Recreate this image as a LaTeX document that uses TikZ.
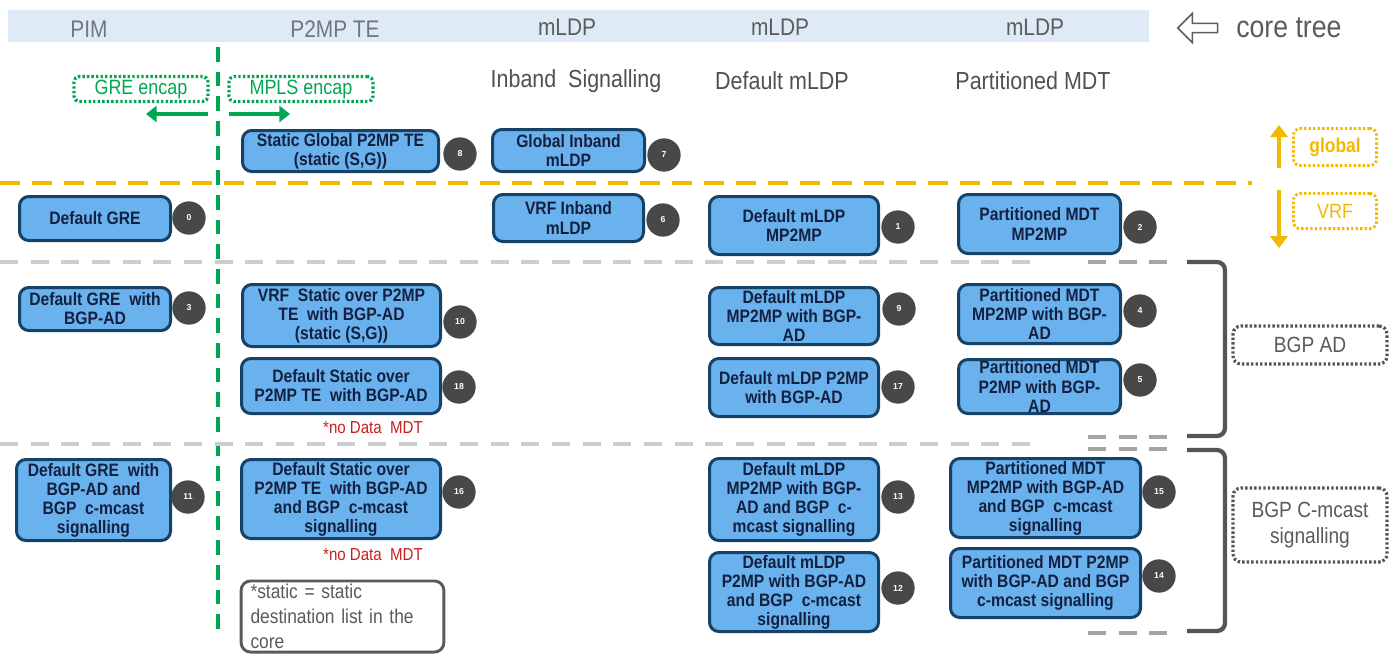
\documentclass[tikz,border=0pt]{standalone}
\usepackage{fontspec}
\setmainfont{Liberation Sans}
\newfontfamily\nar[FakeStretch=0.87]{Liberation Sans}
\usetikzlibrary{shapes.arrows,arrows.meta}
\definecolor{barblue}{RGB}{222,235,247}
\definecolor{boxfill}{RGB}{106,178,238}
\definecolor{boxborder}{RGB}{22,66,104}
\definecolor{boxtext}{RGB}{20,32,64}
\definecolor{numgray}{RGB}{72,72,72}
\definecolor{headgray}{RGB}{112,118,124}
\definecolor{headdark}{RGB}{92,92,92}
\definecolor{subgray}{RGB}{80,80,80}
\definecolor{encgreen}{RGB}{0,166,81}
\definecolor{gold}{RGB}{245,184,0}
\definecolor{dashgray}{RGB}{205,205,205}
\definecolor{dashdark}{RGB}{165,165,165}
\definecolor{brack}{RGB}{85,85,85}
\definecolor{notered}{RGB}{200,30,30}
\definecolor{notegray}{RGB}{90,90,90}
\begin{document}
\begin{tikzpicture}[x=0.75pt,y=-0.75pt,
  box/.style={draw=boxborder, line width=2.25pt, fill=boxfill, rounded corners=7pt,
    align=center, text=boxtext, inner sep=1pt,
    font=\nar\bfseries\fontsize{13.5}{14.3}\selectfont},
  sz/.style 2 args={minimum width=#1*0.75pt-2.25pt, minimum height=#2*0.75pt-2.25pt},
  num/.style={circle, fill=numgray, text=white, minimum size=25pt, inner sep=0pt,
    font=\bfseries\fontsize{6.5}{7}\selectfont},
  head/.style={text=headgray, font=\nar\fontsize{18}{20}\selectfont, inner sep=0pt},
  headm/.style={text=headdark, font=\nar\fontsize{18}{20}\selectfont, inner sep=0pt},
  sub/.style={text=subgray, font=\nar\fontsize{18.5}{20}\selectfont, inner sep=0pt},
  encbox/.style={draw=encgreen, line width=2.4pt, dash pattern=on 1.8pt off 1.6pt,
    rounded corners=4pt, text=encgreen, font=\nar\fontsize{15.5}{17}\selectfont, inner sep=0pt},
  goldbox/.style={draw=gold, line width=2.2pt, dash pattern=on 1.8pt off 1.6pt,
    rounded corners=5pt, text=gold, inner sep=0pt},
  graybox/.style={draw=brack, line width=2.4pt, dash pattern=on 1.8pt off 1.6pt,
    rounded corners=6pt, text=notegray, font=\nar\fontsize{16.5}{19.5}\selectfont,
    align=center, inner sep=0pt},
  nodata/.style={text=notered, font=\nar\fontsize{13}{15}\selectfont, inner sep=0pt},
  gline/.style={draw=encgreen, line width=3pt, dash pattern=on 11pt off 7.5pt},
  yline/.style={draw=gold, line width=2.6pt, dash pattern=on 15pt off 9pt},
  grline/.style={draw=dashgray, line width=2.4pt, dash pattern=on 13.5pt off 9.5pt},
  grdark/.style={draw=dashdark, line width=3pt, dash pattern=on 13.5pt off 9.5pt},
  brk/.style={draw=brack, line width=3.2pt, rounded corners=6pt},
  garrow/.style={draw=encgreen, line width=3.2pt, -{Triangle[length=8pt,width=12pt]}},
  yarrow/.style={draw=gold, line width=3.4pt, -{Triangle[length=9pt,width=13pt]}}
]
\useasboundingbox (0,0) rectangle (1399,654);

% top bar
\fill[barblue] (8,10) rectangle (1149,42);
\node[head] (hpim) at (89,29) {PIM};
\node[head] (hte) at (335,29) {P2MP TE};
\node[headm] (hm1) at (567,27) {mLDP};
\node[headm] (hm2) at (780,27) {mLDP};
\node[headm] (hm3) at (1035,27) {mLDP};
\node[single arrow, draw=headdark, fill=white, line width=1.2pt, shape border rotate=180,
  minimum height=30pt, minimum width=22pt, single arrow head extend=6pt,
  single arrow head indent=0pt, inner sep=2.2pt] (ctarrow) at (1200,28) {};
\node[text=headdark, font=\nar\fontsize{23}{25}\selectfont, anchor=west, inner sep=0pt]
  (ctree) at (1236,28) {core tree};

% sub headers
\node[sub] (sib) at (576,81) {Inband\ \ Signalling};
\node[sub] (sdm) at (782,81) {Default mLDP};
\node[sub] (spm) at (1033,81) {Partitioned MDT};

% separators
\coordinate (ga) at (218,47); \coordinate (gb) at (218,630);
\draw[gline] (ga) -- (gb);
\coordinate (ya) at (0,183); \coordinate (yb) at (1252,183);
\draw[yline] (ya) -- (yb);
\coordinate (l1a) at (0,262); \coordinate (l1b) at (1040,262);
\draw[grline] (l1a) -- (l1b);
\coordinate (l2a) at (0,444); \coordinate (l2b) at (1040,444);
\draw[grline] (l2a) -- (l2b);
\coordinate (d1a) at (1088,262); \coordinate (d1b) at (1168,262);
\draw[grdark] (d1a) -- (d1b);
\coordinate (d2a) at (1088,437); \coordinate (d2b) at (1168,437);
\draw[grdark] (d2a) -- (d2b);
\coordinate (d3a) at (1088,449); \coordinate (d3b) at (1168,449);
\draw[grdark] (d3a) -- (d3b);
\coordinate (d4a) at (1088,633); \coordinate (d4b) at (1168,633);
\draw[grdark] (d4a) -- (d4b);

% brackets
\coordinate (b1a) at (1187,262); \coordinate (b1b) at (1225,262);
\coordinate (b1c) at (1225,436); \coordinate (b1d) at (1187,436);
\draw[brk] (b1a) -- (b1b) -- (b1c) -- (b1d);
\coordinate (b2a) at (1187,450); \coordinate (b2b) at (1225,450);
\coordinate (b2c) at (1225,631); \coordinate (b2d) at (1187,631);
\draw[brk] (b2a) -- (b2b) -- (b2c) -- (b2d);

% encap labels
\node[encbox, minimum width=134*0.75pt, minimum height=25*0.75pt] (gre) at (141,89) {GRE encap};
\node[encbox, minimum width=144*0.75pt, minimum height=25*0.75pt] (mpls) at (301,89) {MPLS encap};
\coordinate (gl1) at (208,114); \coordinate (gl2) at (146,114);
\draw[garrow] (gl1) -- (gl2);
\coordinate (gr1) at (229,114); \coordinate (gr2) at (290,114);
\draw[garrow] (gr1) -- (gr2);

% global / VRF
\node[goldbox, minimum width=86*0.75pt-2.2pt, minimum height=40*0.75pt-2.2pt,
  font=\nar\bfseries\fontsize{15}{17}\selectfont] (glob) at (1335,147) {global};
\node[goldbox, minimum width=86*0.75pt-2.2pt, minimum height=38*0.75pt-2.2pt,
  font=\nar\fontsize{15.5}{17}\selectfont] (vrf) at (1335,211) {VRF};
\coordinate (ua) at (1279,168); \coordinate (ub) at (1279,125);
\draw[yarrow] (ua) -- (ub);
\coordinate (va) at (1279,190); \coordinate (vb) at (1279,248);
\draw[yarrow] (va) -- (vb);

% bracket labels
\node[graybox, minimum width=154*0.75pt, minimum height=38*0.75pt] (bgpad) at (1310,345) {BGP AD};
\node[graybox, minimum width=154*0.75pt, minimum height=74*0.75pt] (bgpcm) at (1310,525) {BGP C-mcast\\signalling};

% boxes
\node[box, sz={199}{44}] (s8) at (340.5,151) {Static Global P2MP TE\\(static (S,G))};
\node[num] (n8) at (460,154) {8};
\node[box, sz={155}{45}] (s7) at (568.5,150.5) {Global Inband\\mLDP};
\node[num] (n7) at (664,155) {7};

\node[box, sz={154}{47}] (s0) at (95,218.5) {Default GRE};
\node[num] (n0) at (189,218) {0};
\node[box, sz={153}{50}] (s6) at (568.5,218) {VRF Inband\\mLDP};
\node[num] (n6) at (663,220) {6};
\node[box, sz={172}{61}] (s1) at (794,225.5) {Default mLDP\\MP2MP};
\node[num] (n1) at (898,227) {1};
\node[box, sz={165}{62}] (s2) at (1039.5,224) {Partitioned MDT\\MP2MP};
\node[num] (n2) at (1140,227) {2};

\node[box, sz={154}{46}] (s3) at (95,309) {Default GRE\ \ with\\BGP-AD};
\node[num] (n3) at (189,308) {3};
\node[box, sz={201}{65}] (s10) at (341.5,315.5) {VRF\ \ Static over P2MP\\TE\ \ with BGP-AD\\(static (S,G))};
\node[num] (n10) at (460,322) {10};
\node[box, sz={172}{60}] (s9) at (794,316) {Default mLDP\\MP2MP with BGP-\\AD};
\node[num] (n9) at (899,309) {9};
\node[box, sz={165}{62}] (s4) at (1039.5,314) {Partitioned MDT\\MP2MP with BGP-\\AD};
\node[num] (n4) at (1140,311) {4};

\node[box, sz={202}{58}] (s18) at (341,386) {Default Static over\\P2MP TE\ \ with BGP-AD};
\node[num] (n18) at (459,387) {18};
\node[nodata] (nd1) at (373,428) {*no Data\ \ MDT};
\node[box, sz={172}{61}] (s17) at (794,387.5) {Default mLDP P2MP\\with BGP-AD};
\node[num] (n17) at (898,387) {17};
\node[box, sz={165}{57}] (s5) at (1039.5,386.5) {Partitioned MDT\\P2MP with BGP-\\AD};
\node[num] (n5) at (1140,380) {5};

\node[box, sz={157}{84}] (s11) at (93.5,500) {Default GRE\ \ with\\BGP-AD\ and\\BGP\ \ c-mcast\\signalling};
\node[num] (n11) at (188,497) {11};
\node[box, sz={202}{82}] (s16) at (341,499) {Default Static over\\P2MP TE\ \ with BGP-AD\\and BGP\ \ c-mcast\\signalling};
\node[num] (n16) at (459,492) {16};
\node[nodata] (nd2) at (373,555) {*no Data\ \ MDT};
\node[draw=notegray, line width=2.2pt, rounded corners=7pt, fill=white,
  minimum width=201*0.75pt-2.2pt, minimum height=74*0.75pt-2.2pt,
  text width=184*0.75pt, align=left, inner xsep=7pt, inner ysep=1pt, text=notegray,
  font=\nar\fontsize{15}{18.75}\selectfont] (note) at (342.5,616.5)
  {*static = static\\destination\ list in the\\core};

\node[box, sz={172}{85}] (s13) at (794,499.5) {Default mLDP\\MP2MP with BGP-\\AD and BGP\ \ c-\\mcast signalling};
\node[num] (n13) at (898,497) {13};
\node[box, sz={172}{82}] (s12) at (794,592) {Default mLDP\\P2MP with BGP-AD\\and BGP\ \ c-mcast\\signalling};
\node[num] (n12) at (898,588) {12};
\node[box, sz={193}{82}] (s15) at (1045.5,498) {Partitioned MDT\\MP2MP with BGP-AD\\and BGP\ \ c-mcast\\signalling};
\node[num] (n15) at (1159,492) {15};
\node[box, sz={193}{72}] (s14) at (1045.5,583) {Partitioned MDT P2MP\\with BGP-AD and BGP\\c-mcast signalling};
\node[num] (n14) at (1159,576) {14};
\end{tikzpicture}
\end{document}
